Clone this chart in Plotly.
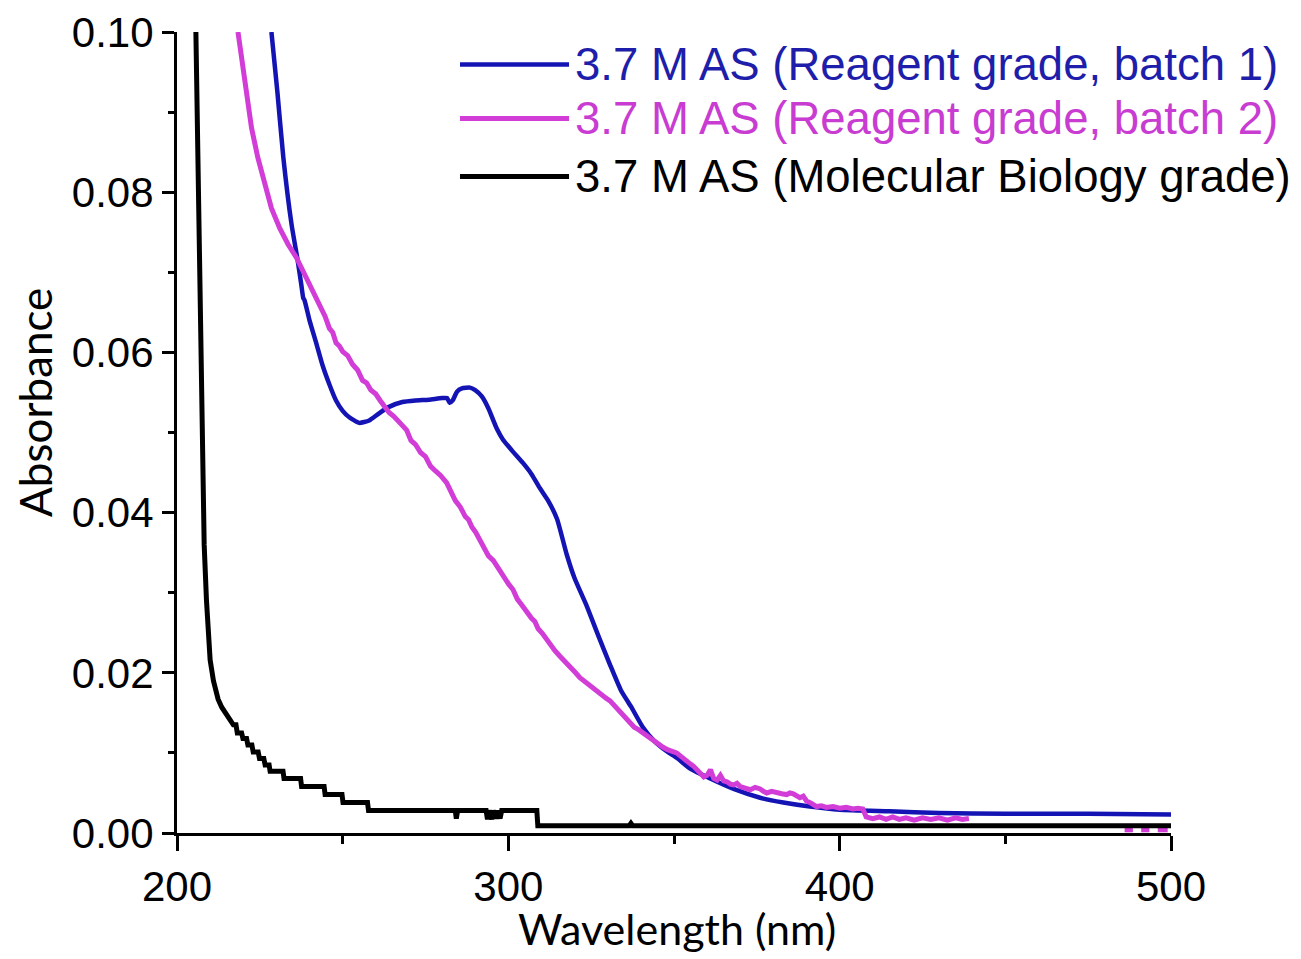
import plotly.graph_objects as go

# Absorbance spectra of 3.7 M ammonium sulfate solutions
# Reagent grade, batch 1
wl_b1 = [228.5, 230.3, 232.1, 234.6, 236.3, 237.5, 238.1, 238.5, 240.0, 242.0, 244.0, 246.0,
         248.0, 250.0, 252.0, 255.0, 258.0, 261.0, 264.0, 268.0, 272.0, 276.0, 280.0, 281.5,
         282.3, 283.2, 284.5, 286.0, 288.4, 290.0, 292.0, 294.0, 296.5, 298.4, 301.0, 304.4,
         307.0, 309.6, 312.0, 314.7, 317.6, 320.0, 323.7, 327.0, 330.7, 334.0, 337.0, 340.6,
         344.0, 347.8, 350.8, 355.0, 360.9, 368.0, 376.0, 383.0, 391.0, 400.0, 415.0, 430.0,
         450.0, 475.0, 500.0]
abs_b1 = [0.1000, 0.0925, 0.0843, 0.0759, 0.0718, 0.0685, 0.0668, 0.0665, 0.0640, 0.0612, 0.0583, 0.0560,
          0.0540, 0.0527, 0.0519, 0.0512, 0.0515, 0.0524, 0.0532, 0.0538, 0.0540, 0.0541, 0.0543, 0.0543,
          0.0537, 0.0540, 0.0551, 0.0555, 0.0556, 0.0553, 0.0545, 0.0530, 0.0505, 0.0491, 0.0478, 0.0462,
          0.0448, 0.0430, 0.0415, 0.0392, 0.0348, 0.0318, 0.0283, 0.0248, 0.0210, 0.0178, 0.0158, 0.0132,
          0.0115, 0.0102, 0.0094, 0.0080, 0.0068, 0.0055, 0.0044, 0.0038, 0.0033, 0.0029, 0.0027, 0.0025,
          0.0024, 0.0024, 0.0023]

# Reagent grade, batch 2 (noisy trace with missing readings between 439 and 486 nm)
wl_b2 = [218.4, 220.9, 222.5, 224.4, 226.5, 228.5, 231.0, 233.5, 236.1, 238.5, 241.0, 242.2,
         243.5, 244.7, 246.0, 247.0, 248.0, 249.0, 250.0, 251.5, 253.0, 254.5, 256.0, 257.2,
         258.5, 260.0, 261.3, 262.6, 264.0, 265.5, 267.0, 268.2, 269.3, 270.6, 272.0, 273.5,
         275.0, 276.5, 278.0, 279.6, 281.4, 282.7, 284.0, 285.5, 287.0, 288.0, 289.0, 290.2,
         291.4, 292.7, 294.0, 295.5, 297.0, 298.0, 299.0, 300.2, 301.4, 302.7, 304.0, 305.5,
         307.0, 308.0, 309.0, 310.3, 311.6, 312.8, 314.0, 315.5, 317.0, 318.0, 319.0, 320.3,
         321.6, 322.8, 324.0, 325.3, 326.5, 327.5, 328.5, 329.6, 330.7, 331.8, 333.0, 334.5,
         336.0, 337.0, 338.0, 339.3, 340.6, 341.8, 343.0, 344.3, 345.5, 346.7, 348.0, 349.4,
         350.8, 352.0, 353.0, 354.0, 355.0, 356.0, 357.0, 358.0, 359.0, 360.0, 361.0, 362.0,
         363.0, 364.0, 365.0, 366.0, 367.0, 368.0, 369.0, 370.0, 371.5, 373.0, 374.5, 376.0,
         377.0, 378.0, 379.5, 381.0, 382.5, 384.0, 385.0, 386.0, 387.0, 388.0, 389.0, 390.0,
         391.5, 393.0, 394.5, 396.0, 398.0, 400.0, 402.0, 404.0, 405.5, 407.0, 408.0, 410.0,
         412.0, 414.0, 416.0, 418.0, 420.0, 422.5, 425.0, 427.5, 430.0, 432.5, 435.0, 437.0,
         439.0, None, 486.0, 488.5, None, 491.0, 493.5, None, 496.0, 499.0]
abs_b2 = [0.1000, 0.0925, 0.0880, 0.0843, 0.0810, 0.0780, 0.0755, 0.0735, 0.0718, 0.0697, 0.0676, 0.0668,
          0.0653, 0.0645, 0.0630, 0.0625, 0.0612, 0.0608, 0.0601, 0.0596, 0.0585, 0.0578, 0.0565, 0.0562,
          0.0553, 0.0548, 0.0540, 0.0532, 0.0525, 0.0520, 0.0512, 0.0508, 0.0503, 0.0490, 0.0485, 0.0475,
          0.0470, 0.0458, 0.0452, 0.0446, 0.0437, 0.0425, 0.0415, 0.0407, 0.0395, 0.0391, 0.0382, 0.0375,
          0.0366, 0.0355, 0.0346, 0.0340, 0.0330, 0.0326, 0.0318, 0.0310, 0.0304, 0.0292, 0.0285, 0.0276,
          0.0268, 0.0264, 0.0255, 0.0249, 0.0241, 0.0233, 0.0228, 0.0221, 0.0215, 0.0211, 0.0205, 0.0200,
          0.0194, 0.0190, 0.0185, 0.0182, 0.0178, 0.0175, 0.0172, 0.0168, 0.0165, 0.0160, 0.0155, 0.0148,
          0.0140, 0.0137, 0.0132, 0.0129, 0.0125, 0.0121, 0.0118, 0.0113, 0.0110, 0.0107, 0.0104, 0.0102,
          0.0100, 0.0096, 0.0092, 0.0090, 0.0086, 0.0083, 0.0078, 0.0075, 0.0070, 0.0072, 0.0079, 0.0068,
          0.0066, 0.0072, 0.0065, 0.0064, 0.0061, 0.0060, 0.0062, 0.0058, 0.0056, 0.0054, 0.0057, 0.0055,
          0.0052, 0.0050, 0.0052, 0.0050, 0.0049, 0.0048, 0.0050, 0.0049, 0.0046, 0.0044, 0.0046, 0.0040,
          0.0037, 0.0033, 0.0034, 0.0032, 0.0033, 0.0031, 0.0032, 0.0030, 0.0031, 0.0030, 0.0020, 0.0018,
          0.0020, 0.0017, 0.0020, 0.0017, 0.0019, 0.0016, 0.0019, 0.0017, 0.0019, 0.0016, 0.0019, 0.0017,
          0.0018, None, 0.0004, 0.0004, None, 0.0004, 0.0004, None, 0.0004, 0.0004]

# Molecular Biology grade (stepped, quantised readings)
wl_mb = [205.7, 206.3, 206.9, 207.5, 208.2, 208.9, 209.5, 210.0, 211.0, 212.4, 213.5, 214.5,
         215.5, 216.5, 217.0, 217.8, 218.2, 219.5, 219.9, 221.0, 221.4, 222.6, 223.0, 224.5,
         224.9, 226.2, 226.6, 227.8, 228.1, 232.0, 232.3, 237.3, 237.6, 244.4, 244.7, 249.8,
         250.1, 257.5, 257.8, 284.0, 284.3, 284.7, 293.3, 293.7, 294.2, 295.0, 295.5, 296.3,
         296.8, 297.5, 298.0, 308.6, 308.9, 336.5, 337.0, 337.5, 500.0]
abs_mb = [0.1000, 0.0850, 0.0720, 0.0500, 0.0360, 0.0290, 0.0250, 0.0216, 0.0190, 0.0167, 0.0157, 0.0150,
          0.0145, 0.0138, 0.0135, 0.0135, 0.0125, 0.0125, 0.0118, 0.0118, 0.0110, 0.0110, 0.0101, 0.0101,
          0.0093, 0.0093, 0.0085, 0.0085, 0.0077, 0.0077, 0.0068, 0.0068, 0.0058, 0.0058, 0.0048, 0.0048,
          0.0038, 0.0038, 0.0028, 0.0028, 0.0018, 0.0028, 0.0028, 0.0017, 0.0028, 0.0017, 0.0028, 0.0018,
          0.0028, 0.0018, 0.0028, 0.0028, 0.0009, 0.0009, 0.0012, 0.0009, 0.0009]

names = ["3.7 M AS (Reagent grade, batch 1)",
         "3.7 M AS (Reagent grade, batch 2)",
         "3.7 M AS (Molecular Biology grade)"]
colors = ["#1414b4", "#d23cd7", "#000000"]
text_colors = ["#1e1eaa", "#c83cd2", "#000000"]
widths = [4.5, 5, 5]
shapes_of_line = ["spline", "linear", "linear"]

TICK_FONT = "Liberation Sans, Arial, sans-serif"
TITLE_FONT = "Lato, sans-serif"

fig = go.Figure()
for x, y, name, c, w, ls in zip([wl_b1, wl_b2, wl_mb], [abs_b1, abs_b2, abs_mb],
                                names, colors, widths, shapes_of_line):
    fig.add_trace(go.Scatter(
        x=x, y=y, mode="lines", connectgaps=False,
        line=dict(color=c, width=w, shape=ls, smoothing=0.5),
        name=name, showlegend=False,
    ))

axis_common = dict(
    showline=True, linecolor="black", linewidth=3,
    ticks="outside", tickcolor="black", tickwidth=3,
    showgrid=False, zeroline=False, mirror=False,
    tickfont=dict(family=TICK_FONT, size=42, color="black"),
)

fig.update_xaxes(
    range=[200, 500], tick0=200, dtick=100, ticklen=15,
    minor=dict(dtick=50, ticks="outside", ticklen=8, tickwidth=3, tickcolor="black", showgrid=False),
    **axis_common,
)
fig.update_yaxes(
    range=[0, 0.1], tick0=0, dtick=0.02, tickformat=".2f", ticklen=12,
    minor=dict(dtick=0.01, ticks="outside", ticklen=6, tickwidth=3, tickcolor="black", showgrid=False),
    **axis_common,
)

# Key in the upper right: sample line plus coloured series name per row
key_rows_y = [0.9594, 0.8920, 0.8196]
key_line_x = (0.2847, 0.3944)
key_text_x = 0.3984
shapes = []
annotations = []
for yk, name, c, tc, w in zip(key_rows_y, names, colors, text_colors, widths):
    shapes.append(dict(type="line", xref="paper", yref="paper",
                       x0=key_line_x[0], x1=key_line_x[1], y0=yk, y1=yk,
                       line=dict(color=c, width=w)))
    annotations.append(dict(text=name, xref="paper", yref="paper", x=key_text_x, y=yk,
                            xanchor="left", yanchor="middle", showarrow=False,
                            font=dict(family=TICK_FONT, size=45.5, color=tc)))

annotations += [
    dict(text="Wavelength (nm)", xref="paper", yref="paper", x=0.5035, y=-0.1195,
         xanchor="center", yanchor="middle", showarrow=False,
         font=dict(family=TITLE_FONT, size=43, color="black")),
    dict(text="Absorbance", xref="paper", yref="paper", x=-0.143, y=0.538,
         xanchor="center", yanchor="middle", textangle=-90, showarrow=False,
         font=dict(family=TITLE_FONT, size=44, color="black")),
]

fig.update_layout(
    width=1301, height=959,
    margin=dict(l=177, r=130, t=32, b=126, autoexpand=False),
    paper_bgcolor="white", plot_bgcolor="white",
    shapes=shapes,
    annotations=annotations,
)

fig.write_html("out.html")
